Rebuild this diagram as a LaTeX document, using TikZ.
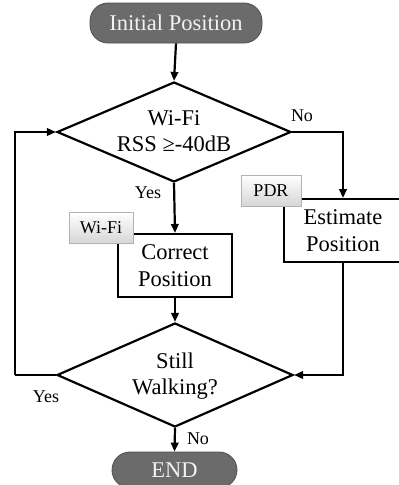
\documentclass[tikz,border=0pt]{standalone}
\usepackage{fontspec}
\setmainfont{Liberation Serif}
\usetikzlibrary{shapes.geometric,arrows.meta,shadows}
\definecolor{pillfill}{HTML}{6B6B6B}
\definecolor{pilldraw}{HTML}{4E4E4E}
\definecolor{pilltext}{HTML}{F2F2F2}
\begin{document}
\begin{tikzpicture}[x=1pt,y=-1pt,
  conn/.style={line width=2.2pt,-{Triangle[length=9pt,width=7.5pt]}},
  plain/.style={line width=2.2pt},
  pill/.style={draw=pilldraw,line width=0.8pt,fill=pillfill,rounded corners=18pt,
    text=pilltext,font=\fontsize{22.5}{26.5}\selectfont,inner sep=0pt},
  decision/.style={diamond,draw,line width=2.2pt,inner sep=0pt},
  dtext/.style={align=center,font=\fontsize{22.5}{26.5}\selectfont,inner sep=0pt},
  procbox/.style={draw,line width=2pt,fill=white,align=center,
    font=\fontsize{22.5}{26.5}\selectfont,inner sep=0pt},
  tag/.style={draw=gray!60,line width=0.6pt,top color=white,bottom color=gray!32,
    font=\fontsize{18}{20}\selectfont,inner sep=0pt,
    drop shadow={opacity=0.25,shadow xshift=1pt,shadow yshift=-1pt}},
  lbl/.style={font=\fontsize{18}{20}\selectfont,inner sep=0pt}
]
\useasboundingbox (0,0) rectangle (399,485);

\node[pill,minimum width=172pt,minimum height=40pt] (init) at (176,23) {Initial Position};

\node[decision,minimum width=234pt,minimum height=100pt] (d1) at (174,132) {};
\node[dtext] (d1t) at (174,131) {Wi-Fi\\RSS ≥-40dB};

\node[procbox,minimum width=114pt,minimum height=63pt] (corr) at (175,265.5) {Correct\\Position};
\node[procbox,minimum width=118pt,minimum height=63pt] (est) at (343,230.5) {Estimate\\Position};

\node[tag,minimum width=64pt,minimum height=31pt] (wtag) at (101,227.5) {Wi-Fi};
\node[tag,minimum width=60pt,minimum height=31pt] (ptag) at (271,190.5) {PDR};

\node[decision,minimum width=236pt,minimum height=104pt] (d2) at (175,375) {};
\node[dtext] (d2t) at (175,376) {Still\\Walking?};

\node[pill,minimum width=125pt,minimum height=36pt] (end) at (174.5,470) {END};

\coordinate (loopc) at (15,375);

\draw[conn] (init.south) -- (d1.north);
\draw[conn] (d1.south) -- (corr.north);
\draw[conn] (d1.east) -| (est.north);
\draw[conn] (corr.south) -- (d2.north);
\draw[conn] (est.south) |- (d2.east);
\draw[plain] (d2.west) -- (loopc);
\draw[conn] (loopc) |- (d1.west);
\draw[conn] (d2.south) -- (end.north);

\node[lbl] (yes1) at (148,193) {Yes};
\node[lbl] (no1) at (302,116) {No};
\node[lbl] (yes2) at (46,397) {Yes};
\node[lbl] (no2) at (198,439) {No};
\end{tikzpicture}
\end{document}
